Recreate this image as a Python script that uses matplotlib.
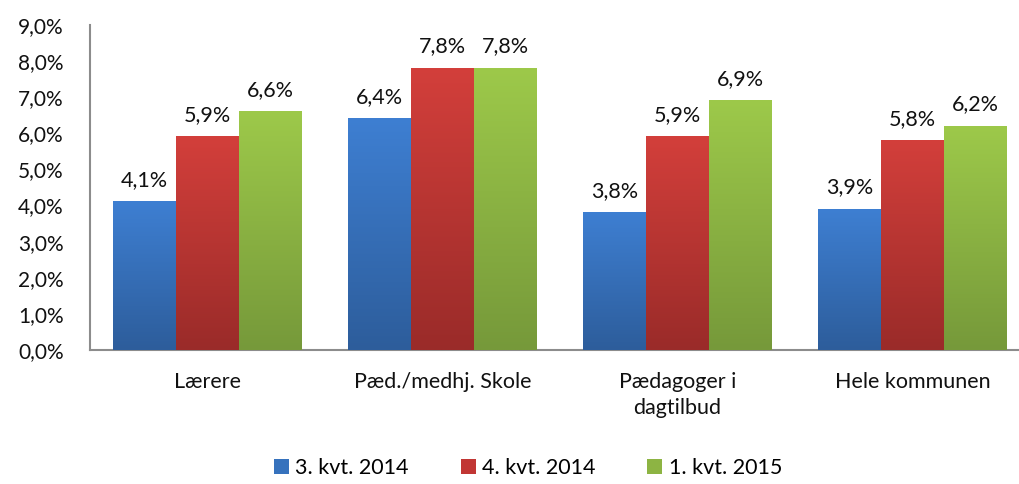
import numpy as np
import matplotlib
matplotlib.use("Agg")
import matplotlib.pyplot as plt
from matplotlib.colors import LinearSegmentedColormap
from matplotlib.patches import Patch

categories = ["Lærere", "Pæd./medhj. Skole", "Pædagoger i\ndagtilbud", "Hele kommunen"]
series_names = ["3. kvt. 2014", "4. kvt. 2014", "1. kvt. 2015"]
q3_2014 = [4.1, 6.4, 3.8, 3.9]
q4_2014 = [5.9, 7.8, 5.9, 5.8]
q1_2015 = [6.6, 7.8, 6.9, 6.2]
yticks = [0, 1, 2, 3, 4, 5, 6, 7, 8, 9]

top_colors = ["#3e7fd2", "#d33f3b", "#9dc94a"]
bot_colors = ["#2d5d9b", "#9a2b29", "#76993a"]
legend_colors = ["#3672bd", "#c13634", "#8db443"]

plt.rcParams['font.family'] = ['Lato', 'DejaVu Sans']

fig = plt.figure(figsize=(10.2, 4.84), dpi=100)
W, H = 1020, 484
ax = fig.add_axes([90 / W, 1 - 350 / H, 940 / W, 325 / H])

x = np.arange(len(categories))
bw = 0.268
series = [q3_2014, q4_2014, q1_2015]
grad = np.linspace(1, 0, 256).reshape(-1, 1)
for i, vals in enumerate(series):
    bars = ax.bar(x + (i - 1) * bw, vals, width=bw, color=legend_colors[i], zorder=2)
    cmap = LinearSegmentedColormap.from_list("g%d" % i, [bot_colors[i], top_colors[i]])
    for b, v in zip(bars, vals):
        bx, bwid, bh = b.get_x(), b.get_width(), b.get_height()
        ax.imshow(grad, extent=[bx, bx + bwid, 0, bh], aspect='auto', cmap=cmap,
                  zorder=3, interpolation='bilinear')
        ax.text(bx + bwid / 2, bh + 0.33, ("%.1f%%" % v).replace('.', ','),
                ha='center', va='bottom', fontsize=15.5, color='#111111', zorder=4)

ax.set_xlim(-0.5, 3.5)
ax.set_ylim(0, 9)
ax.set_yticks(yticks)
ax.set_yticklabels([("%.1f%%" % t).replace('.', ',') for t in yticks], fontsize=15, color='#111111')
ax.set_xticks(x)
ax.set_xticklabels(categories, fontsize=15.5, color='#111111', linespacing=1.35)
ax.tick_params(axis='both', length=0)
ax.tick_params(axis='y', pad=19)
ax.tick_params(axis='x', pad=16)
for s in ['top', 'right']:
    ax.spines[s].set_visible(False)
for s in ['left', 'bottom']:
    ax.spines[s].set_color('#8c8c8c')
    ax.spines[s].set_linewidth(1.5)

handles = [Patch(facecolor=c, edgecolor='none') for c in legend_colors]
fig.legend(handles, series_names, loc='center', bbox_to_anchor=(528 / W, 1 - 468 / H),
           ncol=3, frameon=False, fontsize=15.5, handlelength=0.7, handleheight=0.7,
           handletextpad=0.3, columnspacing=2.4)

fig.savefig("out.png", dpi=100)
